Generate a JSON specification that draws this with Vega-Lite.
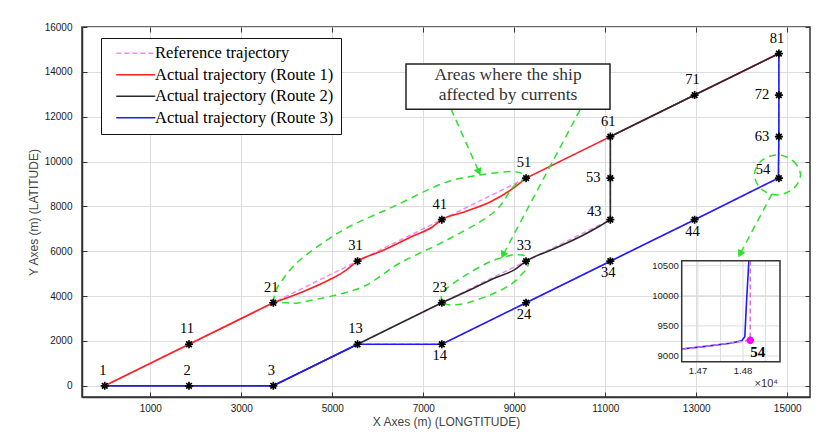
{
"$schema": "https://vega.github.io/schema/vega-lite/v6.json",
"width": 728,
"height": 370,
"autosize": {"type": "none"},
"padding": {"left": 82, "top": 27, "right": 15, "bottom": 44},
"background": "white",
"config": {
  "view": {"stroke": "#333333", "strokeWidth": 1.5},
  "axis": {"labelFont": "Liberation Sans", "labelFontSize": 10, "labelColor": "#1a1a1a", "titleFont": "Liberation Sans", "titleFontSize": 12, "titleFontWeight": "normal", "titleColor": "#444444", "gridColor": "#dddddd", "gridWidth": 1, "domainColor": "#333333", "domainWidth": 1.5, "tickColor": "#333333", "tickSize": -5, "tickWidth": 1},
  "text": {"font": "Liberation Serif"}
},
"datasets": {
  "paths": [
    {"s": "Reference trajectory", "p": "r1", "i": 0, "x": 0, "y": 0},
    {"s": "Reference trajectory", "p": "r1", "i": 1, "x": 1852, "y": 1852},
    {"s": "Reference trajectory", "p": "r1", "i": 2, "x": 3704, "y": 3704},
    {"s": "Reference trajectory", "p": "r1", "i": 3, "x": 5556, "y": 5556},
    {"s": "Reference trajectory", "p": "r1", "i": 4, "x": 7408, "y": 7408},
    {"s": "Reference trajectory", "p": "r1", "i": 5, "x": 9260, "y": 9260},
    {"s": "Reference trajectory", "p": "r1", "i": 6, "x": 11112, "y": 11112},
    {"s": "Reference trajectory", "p": "r1", "i": 7, "x": 12964, "y": 12964},
    {"s": "Reference trajectory", "p": "r1", "i": 8, "x": 14816, "y": 14816},
    {"s": "Reference trajectory", "p": "r2", "i": 0, "x": 0, "y": 0},
    {"s": "Reference trajectory", "p": "r2", "i": 1, "x": 1852, "y": 0},
    {"s": "Reference trajectory", "p": "r2", "i": 2, "x": 3704, "y": 0},
    {"s": "Reference trajectory", "p": "r2", "i": 3, "x": 5556, "y": 1852},
    {"s": "Reference trajectory", "p": "r2", "i": 4, "x": 7408, "y": 3704},
    {"s": "Reference trajectory", "p": "r2", "i": 5, "x": 9260, "y": 5556},
    {"s": "Reference trajectory", "p": "r2", "i": 6, "x": 11112, "y": 7408},
    {"s": "Reference trajectory", "p": "r2", "i": 7, "x": 11112, "y": 9260},
    {"s": "Reference trajectory", "p": "r2", "i": 8, "x": 11112, "y": 11112},
    {"s": "Reference trajectory", "p": "r2", "i": 9, "x": 12964, "y": 12964},
    {"s": "Reference trajectory", "p": "r2", "i": 10, "x": 14816, "y": 14816},
    {"s": "Reference trajectory", "p": "r3", "i": 0, "x": 0, "y": 0},
    {"s": "Reference trajectory", "p": "r3", "i": 1, "x": 1852, "y": 0},
    {"s": "Reference trajectory", "p": "r3", "i": 2, "x": 3704, "y": 0},
    {"s": "Reference trajectory", "p": "r3", "i": 3, "x": 5556, "y": 1852},
    {"s": "Reference trajectory", "p": "r3", "i": 4, "x": 7408, "y": 1852},
    {"s": "Reference trajectory", "p": "r3", "i": 5, "x": 9260, "y": 3704},
    {"s": "Reference trajectory", "p": "r3", "i": 6, "x": 11112, "y": 5556},
    {"s": "Reference trajectory", "p": "r3", "i": 7, "x": 12964, "y": 7408},
    {"s": "Reference trajectory", "p": "r3", "i": 8, "x": 14816, "y": 9260},
    {"s": "Reference trajectory", "p": "r3", "i": 9, "x": 14816, "y": 11112},
    {"s": "Reference trajectory", "p": "r3", "i": 10, "x": 14816, "y": 12964},
    {"s": "Reference trajectory", "p": "r3", "i": 11, "x": 14816, "y": 14816},
    {"s": "Actual trajectory (Route 1)", "p": "a1", "i": 0, "x": 0, "y": 0},
    {"s": "Actual trajectory (Route 1)", "p": "a1", "i": 1, "x": 1852, "y": 1852},
    {"s": "Actual trajectory (Route 1)", "p": "a1", "i": 2, "x": 3704, "y": 3704},
    {"s": "Actual trajectory (Route 1)", "p": "a1c", "i": 0, "x": 3704, "y": 3704},
    {"s": "Actual trajectory (Route 1)", "p": "a1c", "i": 1, "x": 4300, "y": 4150},
    {"s": "Actual trajectory (Route 1)", "p": "a1c", "i": 2, "x": 4980, "y": 4770},
    {"s": "Actual trajectory (Route 1)", "p": "a1c", "i": 3, "x": 5300, "y": 5150},
    {"s": "Actual trajectory (Route 1)", "p": "a1c", "i": 4, "x": 5556, "y": 5556},
    {"s": "Actual trajectory (Route 1)", "p": "a1c", "i": 5, "x": 6100, "y": 6020},
    {"s": "Actual trajectory (Route 1)", "p": "a1c", "i": 6, "x": 6800, "y": 6700},
    {"s": "Actual trajectory (Route 1)", "p": "a1c", "i": 7, "x": 7200, "y": 7080},
    {"s": "Actual trajectory (Route 1)", "p": "a1c", "i": 8, "x": 7408, "y": 7408},
    {"s": "Actual trajectory (Route 1)", "p": "a1c", "i": 9, "x": 7900, "y": 7750},
    {"s": "Actual trajectory (Route 1)", "p": "a1c", "i": 10, "x": 8500, "y": 8230},
    {"s": "Actual trajectory (Route 1)", "p": "a1c", "i": 11, "x": 8900, "y": 8700},
    {"s": "Actual trajectory (Route 1)", "p": "a1c", "i": 12, "x": 9260, "y": 9260},
    {"s": "Actual trajectory (Route 1)", "p": "a1b", "i": 0, "x": 9260, "y": 9260},
    {"s": "Actual trajectory (Route 1)", "p": "a1b", "i": 1, "x": 11112, "y": 11112},
    {"s": "Actual trajectory (Route 1)", "p": "a1b", "i": 2, "x": 12964, "y": 12964},
    {"s": "Actual trajectory (Route 1)", "p": "a1b", "i": 3, "x": 14816, "y": 14816},
    {"s": "Actual trajectory (Route 2)", "p": "a2", "i": 0, "x": 0, "y": 0},
    {"s": "Actual trajectory (Route 2)", "p": "a2", "i": 1, "x": 1852, "y": 0},
    {"s": "Actual trajectory (Route 2)", "p": "a2", "i": 2, "x": 3704, "y": 0},
    {"s": "Actual trajectory (Route 2)", "p": "a2", "i": 3, "x": 5556, "y": 1852},
    {"s": "Actual trajectory (Route 2)", "p": "a2", "i": 4, "x": 7408, "y": 3704},
    {"s": "Actual trajectory (Route 2)", "p": "a2c", "i": 0, "x": 7408, "y": 3704},
    {"s": "Actual trajectory (Route 2)", "p": "a2c", "i": 1, "x": 8000, "y": 4250},
    {"s": "Actual trajectory (Route 2)", "p": "a2c", "i": 2, "x": 8600, "y": 4830},
    {"s": "Actual trajectory (Route 2)", "p": "a2c", "i": 3, "x": 9000, "y": 5170},
    {"s": "Actual trajectory (Route 2)", "p": "a2c", "i": 4, "x": 9260, "y": 5556},
    {"s": "Actual trajectory (Route 2)", "p": "a2c", "i": 5, "x": 9900, "y": 6130},
    {"s": "Actual trajectory (Route 2)", "p": "a2c", "i": 6, "x": 10500, "y": 6700},
    {"s": "Actual trajectory (Route 2)", "p": "a2c", "i": 7, "x": 10900, "y": 7150},
    {"s": "Actual trajectory (Route 2)", "p": "a2c", "i": 8, "x": 11112, "y": 7408},
    {"s": "Actual trajectory (Route 2)", "p": "a2b", "i": 0, "x": 11112, "y": 7408},
    {"s": "Actual trajectory (Route 2)", "p": "a2b", "i": 1, "x": 11112, "y": 9260},
    {"s": "Actual trajectory (Route 2)", "p": "a2b", "i": 2, "x": 11112, "y": 11112},
    {"s": "Actual trajectory (Route 2)", "p": "a2b", "i": 3, "x": 12964, "y": 12964},
    {"s": "Actual trajectory (Route 2)", "p": "a2b", "i": 4, "x": 14816, "y": 14816},
    {"s": "Actual trajectory (Route 3)", "p": "a3", "i": 0, "x": 0, "y": 0},
    {"s": "Actual trajectory (Route 3)", "p": "a3", "i": 1, "x": 1852, "y": 0},
    {"s": "Actual trajectory (Route 3)", "p": "a3", "i": 2, "x": 3704, "y": 0},
    {"s": "Actual trajectory (Route 3)", "p": "a3", "i": 3, "x": 5556, "y": 1852},
    {"s": "Actual trajectory (Route 3)", "p": "a3", "i": 4, "x": 7408, "y": 1852},
    {"s": "Actual trajectory (Route 3)", "p": "a3", "i": 5, "x": 9260, "y": 3704},
    {"s": "Actual trajectory (Route 3)", "p": "a3", "i": 6, "x": 11112, "y": 5556},
    {"s": "Actual trajectory (Route 3)", "p": "a3", "i": 7, "x": 12964, "y": 7408},
    {"s": "Actual trajectory (Route 3)", "p": "a3", "i": 8, "x": 14797, "y": 9254},
    {"s": "Actual trajectory (Route 3)", "p": "a3", "i": 9, "x": 14804, "y": 9321},
    {"s": "Actual trajectory (Route 3)", "p": "a3", "i": 10, "x": 14808, "y": 9930},
    {"s": "Actual trajectory (Route 3)", "p": "a3", "i": 11, "x": 14813, "y": 10583},
    {"s": "Actual trajectory (Route 3)", "p": "a3", "i": 12, "x": 14816, "y": 11112},
    {"s": "Actual trajectory (Route 3)", "p": "a3", "i": 13, "x": 14816, "y": 12964},
    {"s": "Actual trajectory (Route 3)", "p": "a3", "i": 14, "x": 14816, "y": 14816}
  ],
  "pts": [
    {"id": "1", "x": 0, "y": 0},
    {"id": "2", "x": 1852, "y": 0},
    {"id": "3", "x": 3704, "y": 0},
    {"id": "11", "x": 1852, "y": 1852},
    {"id": "21", "x": 3704, "y": 3704},
    {"id": "31", "x": 5556, "y": 5556},
    {"id": "41", "x": 7408, "y": 7408},
    {"id": "51", "x": 9260, "y": 9260},
    {"id": "61", "x": 11112, "y": 11112},
    {"id": "71", "x": 12964, "y": 12964},
    {"id": "81", "x": 14816, "y": 14816},
    {"id": "13", "x": 5556, "y": 1852},
    {"id": "14", "x": 7408, "y": 1852},
    {"id": "23", "x": 7408, "y": 3704},
    {"id": "33", "x": 9260, "y": 5556},
    {"id": "43", "x": 11112, "y": 7408},
    {"id": "53", "x": 11112, "y": 9260},
    {"id": "24", "x": 9260, "y": 3704},
    {"id": "34", "x": 11112, "y": 5556},
    {"id": "44", "x": 12964, "y": 7408},
    {"id": "54", "x": 14816, "y": 9260},
    {"id": "63", "x": 14816, "y": 11112},
    {"id": "72", "x": 14816, "y": 12964}
  ],
  "ell": [
    {"e": "E1", "i": 0, "x": 3704, "y": 3704},
    {"e": "E1", "i": 1, "x": 3742, "y": 4125},
    {"e": "E1", "i": 2, "x": 3852, "y": 4572},
    {"e": "E1", "i": 3, "x": 4291, "y": 5611},
    {"e": "E1", "i": 4, "x": 5242, "y": 6949},
    {"e": "E1", "i": 5, "x": 6342, "y": 7988},
    {"e": "E1", "i": 6, "x": 7442, "y": 9032},
    {"e": "E1", "i": 7, "x": 8247, "y": 9403},
    {"e": "E1", "i": 8, "x": 8979, "y": 9550},
    {"e": "E1", "i": 9, "x": 9260, "y": 9300},
    {"e": "E1", "i": 10, "x": 8973, "y": 8867},
    {"e": "E1", "i": 11, "x": 8533, "y": 7707},
    {"e": "E1", "i": 12, "x": 7522, "y": 6502},
    {"e": "E1", "i": 13, "x": 6489, "y": 5477},
    {"e": "E1", "i": 14, "x": 5610, "y": 4362},
    {"e": "E1", "i": 15, "x": 4357, "y": 3738},
    {"e": "E1", "i": 16, "x": 4005, "y": 3700},
    {"e": "E1", "i": 17, "x": 3704, "y": 3704},
    {"e": "E2", "i": 0, "x": 7408, "y": 3704},
    {"e": "E2", "i": 1, "x": 7440, "y": 4197},
    {"e": "E2", "i": 2, "x": 7880, "y": 4866},
    {"e": "E2", "i": 3, "x": 8394, "y": 5464},
    {"e": "E2", "i": 4, "x": 8687, "y": 5687},
    {"e": "E2", "i": 5, "x": 8979, "y": 5834},
    {"e": "E2", "i": 6, "x": 9236, "y": 5789},
    {"e": "E2", "i": 7, "x": 9302, "y": 5388},
    {"e": "E2", "i": 8, "x": 9192, "y": 5031},
    {"e": "E2", "i": 9, "x": 8907, "y": 4496},
    {"e": "E2", "i": 10, "x": 8467, "y": 4050},
    {"e": "E2", "i": 11, "x": 7962, "y": 3693},
    {"e": "E2", "i": 12, "x": 7588, "y": 3604},
    {"e": "E2", "i": 13, "x": 7408, "y": 3704},
    {"e": "C", "i": 0, "x": 14776, "y": 10295},
    {"e": "C", "i": 1, "x": 15127, "y": 10027},
    {"e": "C", "i": 2, "x": 15291, "y": 9403},
    {"e": "C", "i": 3, "x": 15127, "y": 8778},
    {"e": "C", "i": 4, "x": 14776, "y": 8510},
    {"e": "C", "i": 5, "x": 14426, "y": 8778},
    {"e": "C", "i": 6, "x": 14280, "y": 9403},
    {"e": "C", "i": 7, "x": 14426, "y": 10027}
  ],
  "arr": [
    {"a": 1, "i": 0, "x": 7610, "y": 12346},
    {"a": 1, "i": 1, "x": 8225, "y": 9536},
    {"a": 2, "i": 0, "x": 10445, "y": 12301},
    {"a": 2, "i": 1, "x": 8753, "y": 5834},
    {"a": 3, "i": 0, "x": 14665, "y": 8555},
    {"a": 3, "i": 1, "x": 13962, "y": 5879}
  ],
  "inset": [
    {"p": "act", "i": 0, "x": 14664, "y": 9116},
    {"p": "act", "i": 1, "x": 14712, "y": 9155},
    {"p": "act", "i": 2, "x": 14771, "y": 9211},
    {"p": "act", "i": 3, "x": 14797, "y": 9254},
    {"p": "act", "i": 4, "x": 14804, "y": 9321},
    {"p": "act", "i": 5, "x": 14808, "y": 9930},
    {"p": "act", "i": 6, "x": 14813, "y": 10583},
    {"p": "ref", "i": 0, "x": 14664, "y": 9108},
    {"p": "ref", "i": 1, "x": 14816, "y": 9260},
    {"p": "ref", "i": 2, "x": 14816, "y": 10583}
  ],
  "ixt": [
    {"v": 14700, "lab": "1.47"},
    {"v": 14750, "lab": ""},
    {"v": 14800, "lab": "1.48"},
    {"v": 14850, "lab": ""}
  ],
  "iyt": [
    {"v": 9000},
    {"v": 9500},
    {"v": 10000},
    {"v": 10500}
  ],
  "note": [
    {"t": "Areas where the ship\naffected by currents", "m": "×10⁴"}
  ]
},
"resolve": {"scale": {"x": "independent", "y": "independent"}},
"layer": [
  {
    "layer": [
      {
        "data": {"name": "paths"},
        "transform": [{"filter": "datum.s === 'Reference trajectory'"}],
        "mark": {"type": "line", "strokeWidth": 1.5},
        "encoding": {
          "x": {"field": "x", "type": "quantitative", "scale": {"domain": [-500, 15500], "nice": false, "zero": false},
            "axis": {"orient": "bottom", "values": [1000, 3000, 5000, 7000, 9000, 11000, 13000, 15000], "format": "d", "title": "X Axes (m) (LONGTITUDE)", "grid": true, "labelPadding": 11, "titlePadding": 3}},
          "y": {"field": "y", "type": "quantitative", "scale": {"domain": [-500, 16000], "nice": false, "zero": false},
            "axis": {"orient": "left", "values": [0, 2000, 4000, 6000, 8000, 10000, 12000, 14000, 16000], "format": "d", "title": "Y Axes (m) (LATITUDE)", "grid": true, "labelPadding": 15, "titlePadding": 4}},
          "color": {"field": "s", "type": "nominal",
            "scale": {"domain": ["Reference trajectory", "Actual trajectory (Route 1)", "Actual trajectory (Route 2)", "Actual trajectory (Route 3)"], "range": ["#f08cf0", "#ff2020", "#2a2a2a", "#1c1cff"]},
            "legend": {"orient": "none", "legendX": 19, "legendY": 11, "title": null, "fillColor": "white", "strokeColor": "#111111", "padding": 7, "labelFont": "Liberation Serif", "labelFontSize": 16.5, "labelColor": "black", "symbolType": "M-3.9,0H3.9", "symbolSize": 100, "symbolStrokeWidth": 1.5, "symbolOffset": 19.5, "labelOffset": 11, "rowPadding": 4.5, "labelLimit": 300}},
          "strokeDash": {"field": "s", "type": "nominal",
            "scale": {"domain": ["Reference trajectory", "Actual trajectory (Route 1)", "Actual trajectory (Route 2)", "Actual trajectory (Route 3)"], "range": [[5, 3], [1, 0], [1, 0], [1, 0]]}},
          "detail": {"field": "p"},
          "order": {"field": "i"}
        }
      },
      {
        "data": {"name": "paths"},
        "transform": [{"filter": {"field": "p", "oneOf": ["a1", "a1b", "a2", "a2b", "a3"]}}],
        "mark": {"type": "line", "strokeWidth": 1.6},
        "encoding": {
          "x": {"field": "x", "type": "quantitative", "axis": null},
          "y": {"field": "y", "type": "quantitative", "axis": null},
          "color": {"field": "s", "type": "nominal"},
          "detail": {"field": "p"},
          "order": {"field": "i"}
        }
      },
      {
        "data": {"name": "paths"},
        "transform": [{"filter": {"field": "p", "oneOf": ["a1c", "a2c"]}}],
        "mark": {"type": "line", "strokeWidth": 1.6, "interpolate": "monotone"},
        "encoding": {
          "x": {"field": "x", "type": "quantitative", "axis": null},
          "y": {"field": "y", "type": "quantitative", "axis": null},
          "color": {"field": "s", "type": "nominal"},
          "detail": {"field": "p"},
          "order": {"field": "i"}
        }
      },
      {
        "data": {"name": "ell"},
        "transform": [{"filter": "datum.e !== 'C'"}],
        "mark": {"type": "line", "interpolate": "cardinal", "stroke": "#2ee02e", "strokeWidth": 1.5, "strokeDash": [7, 5]},
        "encoding": {
          "x": {"field": "x", "type": "quantitative", "axis": null},
          "y": {"field": "y", "type": "quantitative", "axis": null},
          "detail": {"field": "e"},
          "order": {"field": "i"}
        }
      },
      {
        "data": {"name": "ell"},
        "transform": [{"filter": "datum.e === 'C'"}],
        "mark": {"type": "line", "interpolate": "cardinal-closed", "stroke": "#2ee02e", "strokeWidth": 1.5, "strokeDash": [7, 5]},
        "encoding": {
          "x": {"field": "x", "type": "quantitative", "axis": null},
          "y": {"field": "y", "type": "quantitative", "axis": null},
          "order": {"field": "i"}
        }
      },
      {
        "data": {"name": "arr"},
        "mark": {"type": "line", "stroke": "#2ee02e", "strokeWidth": 1.5, "strokeDash": [7, 5]},
        "encoding": {
          "x": {"field": "x", "type": "quantitative", "axis": null},
          "y": {"field": "y", "type": "quantitative", "axis": null},
          "detail": {"field": "a"},
          "order": {"field": "i"}
        }
      },
      {
        "data": {"name": "arr"},
        "transform": [{"filter": "datum.i === 1 && datum.a === 1"}],
        "mark": {"type": "point", "shape": "triangle-up", "filled": true, "color": "#2ee02e", "opacity": 1, "size": 70, "angle": 156},
        "encoding": {
          "x": {"field": "x", "type": "quantitative", "axis": null},
          "y": {"field": "y", "type": "quantitative", "axis": null}
        }
      },
      {
        "data": {"name": "arr"},
        "transform": [{"filter": "datum.i === 1 && datum.a !== 1"}],
        "mark": {"type": "point", "shape": "triangle-up", "filled": true, "color": "#2ee02e", "opacity": 1, "size": 70, "angle": 208},
        "encoding": {
          "x": {"field": "x", "type": "quantitative", "axis": null},
          "y": {"field": "y", "type": "quantitative", "axis": null}
        }
      },
      {
        "data": {"name": "note"},
        "mark": {"type": "rect", "fill": "white", "stroke": "#222222", "strokeWidth": 1.5},
        "encoding": {
          "x": {"datum": 6621, "type": "quantitative", "axis": null},
          "x2": {"datum": 11104},
          "y": {"datum": 12333, "type": "quantitative", "axis": null},
          "y2": {"datum": 14353}
        }
      },
      {
        "data": {"name": "note"},
        "mark": {"type": "text", "font": "Liberation Serif", "fontSize": 17.5, "color": "#333333", "lineBreak": "\n", "lineHeight": 20, "align": "center", "baseline": "middle"},
        "encoding": {
          "x": {"datum": 8863, "type": "quantitative", "axis": null},
          "y": {"datum": 13862, "type": "quantitative", "axis": null},
          "text": {"field": "t"}
        }
      },
      {
        "data": {"name": "pts"},
        "mark": {"type": "point", "shape": "M0,-1V1M-1,0H1M-0.7,-0.7L0.7,0.7M-0.7,0.7L0.7,-0.7", "filled": false, "stroke": "black", "strokeWidth": 1.7, "size": 64, "opacity": 1},
        "encoding": {
          "x": {"field": "x", "type": "quantitative", "axis": {"orient": "top", "values": [1000, 3000, 5000, 7000, 9000, 11000, 13000, 15000], "labels": false, "grid": false, "title": null, "domain": false}},
          "y": {"field": "y", "type": "quantitative", "axis": {"orient": "right", "values": [0, 2000, 4000, 6000, 8000, 10000, 12000, 14000, 16000], "labels": false, "grid": false, "title": null, "domain": false}}
        }
      },
      {
        "data": {"name": "pts"},
        "transform": [{"filter": {"not": {"field": "id", "oneOf": ["14", "24", "34", "44", "53", "63", "72", "43", "54"]}}}],
        "mark": {"type": "text", "font": "Liberation Serif", "fontSize": 14.5, "color": "black", "dx": -2, "dy": -15, "baseline": "middle"},
        "encoding": {
          "x": {"field": "x", "type": "quantitative", "axis": null},
          "y": {"field": "y", "type": "quantitative", "axis": null},
          "text": {"field": "id"}
        }
      },
      {
        "data": {"name": "pts"},
        "transform": [{"filter": {"field": "id", "oneOf": ["14", "24", "34", "44"]}}],
        "mark": {"type": "text", "font": "Liberation Serif", "fontSize": 14.5, "color": "black", "dx": -2, "dy": 12, "baseline": "middle"},
        "encoding": {
          "x": {"field": "x", "type": "quantitative", "axis": null},
          "y": {"field": "y", "type": "quantitative", "axis": null},
          "text": {"field": "id"}
        }
      },
      {
        "data": {"name": "pts"},
        "transform": [{"filter": {"field": "id", "oneOf": ["53", "63", "72"]}}],
        "mark": {"type": "text", "font": "Liberation Serif", "fontSize": 14.5, "color": "black", "dx": -17, "dy": 0, "baseline": "middle"},
        "encoding": {
          "x": {"field": "x", "type": "quantitative", "axis": null},
          "y": {"field": "y", "type": "quantitative", "axis": null},
          "text": {"field": "id"}
        }
      },
      {
        "data": {"name": "pts"},
        "transform": [{"filter": {"field": "id", "oneOf": ["43", "54"]}}],
        "mark": {"type": "text", "font": "Liberation Serif", "fontSize": 14.5, "color": "black", "dx": -16, "dy": -8, "baseline": "middle"},
        "encoding": {
          "x": {"field": "x", "type": "quantitative", "axis": null},
          "y": {"field": "y", "type": "quantitative", "axis": null},
          "text": {"field": "id"}
        }
      }
    ]
  },
  {
    "layer": [
      {
        "data": {"name": "ixt"},
        "mark": {"type": "rule", "color": "#dddddd", "strokeWidth": 1},
        "encoding": {
          "x": {"field": "v", "type": "quantitative", "axis": null, "scale": {"domain": [14664, 14882], "range": [599.7, 698], "nice": false, "zero": false}},
          "y": {"datum": 8905, "type": "quantitative", "axis": null, "scale": {"domain": [8905, 10583], "range": [334.7, 233.7], "nice": false, "zero": false}},
          "y2": {"datum": 10583}
        }
      },
      {
        "data": {"name": "iyt"},
        "mark": {"type": "rule", "color": "#dddddd", "strokeWidth": 1},
        "encoding": {
          "y": {"field": "v", "type": "quantitative", "axis": null},
          "x": {"datum": 14664, "type": "quantitative", "axis": null},
          "x2": {"datum": 14882}
        }
      },
      {
        "data": {"name": "inset"},
        "transform": [{"filter": "datum.p === 'act'"}],
        "mark": {"type": "line", "color": "#1c1cff", "strokeWidth": 1.6},
        "encoding": {
          "x": {"field": "x", "type": "quantitative", "axis": null},
          "y": {"field": "y", "type": "quantitative", "axis": null},
          "order": {"field": "i"}
        }
      },
      {
        "data": {"name": "inset"},
        "transform": [{"filter": "datum.p === 'ref'"}],
        "mark": {"type": "line", "color": "#e070e0", "strokeWidth": 1.5, "strokeDash": [5, 3]},
        "encoding": {
          "x": {"field": "x", "type": "quantitative", "axis": null},
          "y": {"field": "y", "type": "quantitative", "axis": null},
          "order": {"field": "i"}
        }
      },
      {
        "data": {"name": "note"},
        "mark": {"type": "rect", "fill": "transparent", "stroke": "#333333", "strokeWidth": 1.5},
        "encoding": {
          "x": {"datum": 14664, "type": "quantitative", "axis": null},
          "x2": {"datum": 14882},
          "y": {"datum": 8905, "type": "quantitative", "axis": null},
          "y2": {"datum": 10583}
        }
      },
      {
        "data": {"name": "ixt"},
        "mark": {"type": "text", "font": "Liberation Sans", "fontSize": 9.5, "color": "#1a1a1a", "baseline": "top", "align": "center", "dy": 4},
        "encoding": {
          "x": {"field": "v", "type": "quantitative", "axis": null},
          "y": {"datum": 8905, "type": "quantitative", "axis": null},
          "text": {"field": "lab"}
        }
      },
      {
        "data": {"name": "iyt"},
        "mark": {"type": "text", "font": "Liberation Sans", "fontSize": 9.5, "color": "#1a1a1a", "baseline": "middle", "align": "right", "dx": -3},
        "encoding": {
          "y": {"field": "v", "type": "quantitative", "axis": null},
          "x": {"datum": 14664, "type": "quantitative", "axis": null},
          "text": {"field": "v", "type": "quantitative", "format": "d"}
        }
      },
      {
        "data": {"name": "note"},
        "mark": {"type": "text", "font": "Liberation Sans", "fontSize": 11, "color": "#333333", "baseline": "middle", "align": "right", "dx": -2, "dy": 22},
        "encoding": {
          "x": {"datum": 14882, "type": "quantitative", "axis": null},
          "y": {"datum": 8905, "type": "quantitative", "axis": null},
          "text": {"field": "m"}
        }
      },
      {
        "data": {"name": "pts"},
        "transform": [{"filter": "datum.id === '54'"}],
        "mark": {"type": "point", "shape": "M0,-1V1M-1,0H1M-0.7,-0.7L0.7,0.7M-0.7,0.7L0.7,-0.7", "filled": false, "stroke": "#ff00ff", "strokeWidth": 2.5, "size": 55, "opacity": 1},
        "encoding": {
          "x": {"field": "x", "type": "quantitative", "axis": null},
          "y": {"field": "y", "type": "quantitative", "axis": null}
        }
      },
      {
        "data": {"name": "pts"},
        "transform": [{"filter": "datum.id === '54'"}],
        "mark": {"type": "text", "font": "Liberation Serif", "fontSize": 15, "fontWeight": "bold", "color": "black", "dx": 0, "dy": 12, "align": "left", "baseline": "middle"},
        "encoding": {
          "x": {"field": "x", "type": "quantitative", "axis": null},
          "y": {"field": "y", "type": "quantitative", "axis": null},
          "text": {"field": "id"}
        }
      }
    ]
  }
]
}
